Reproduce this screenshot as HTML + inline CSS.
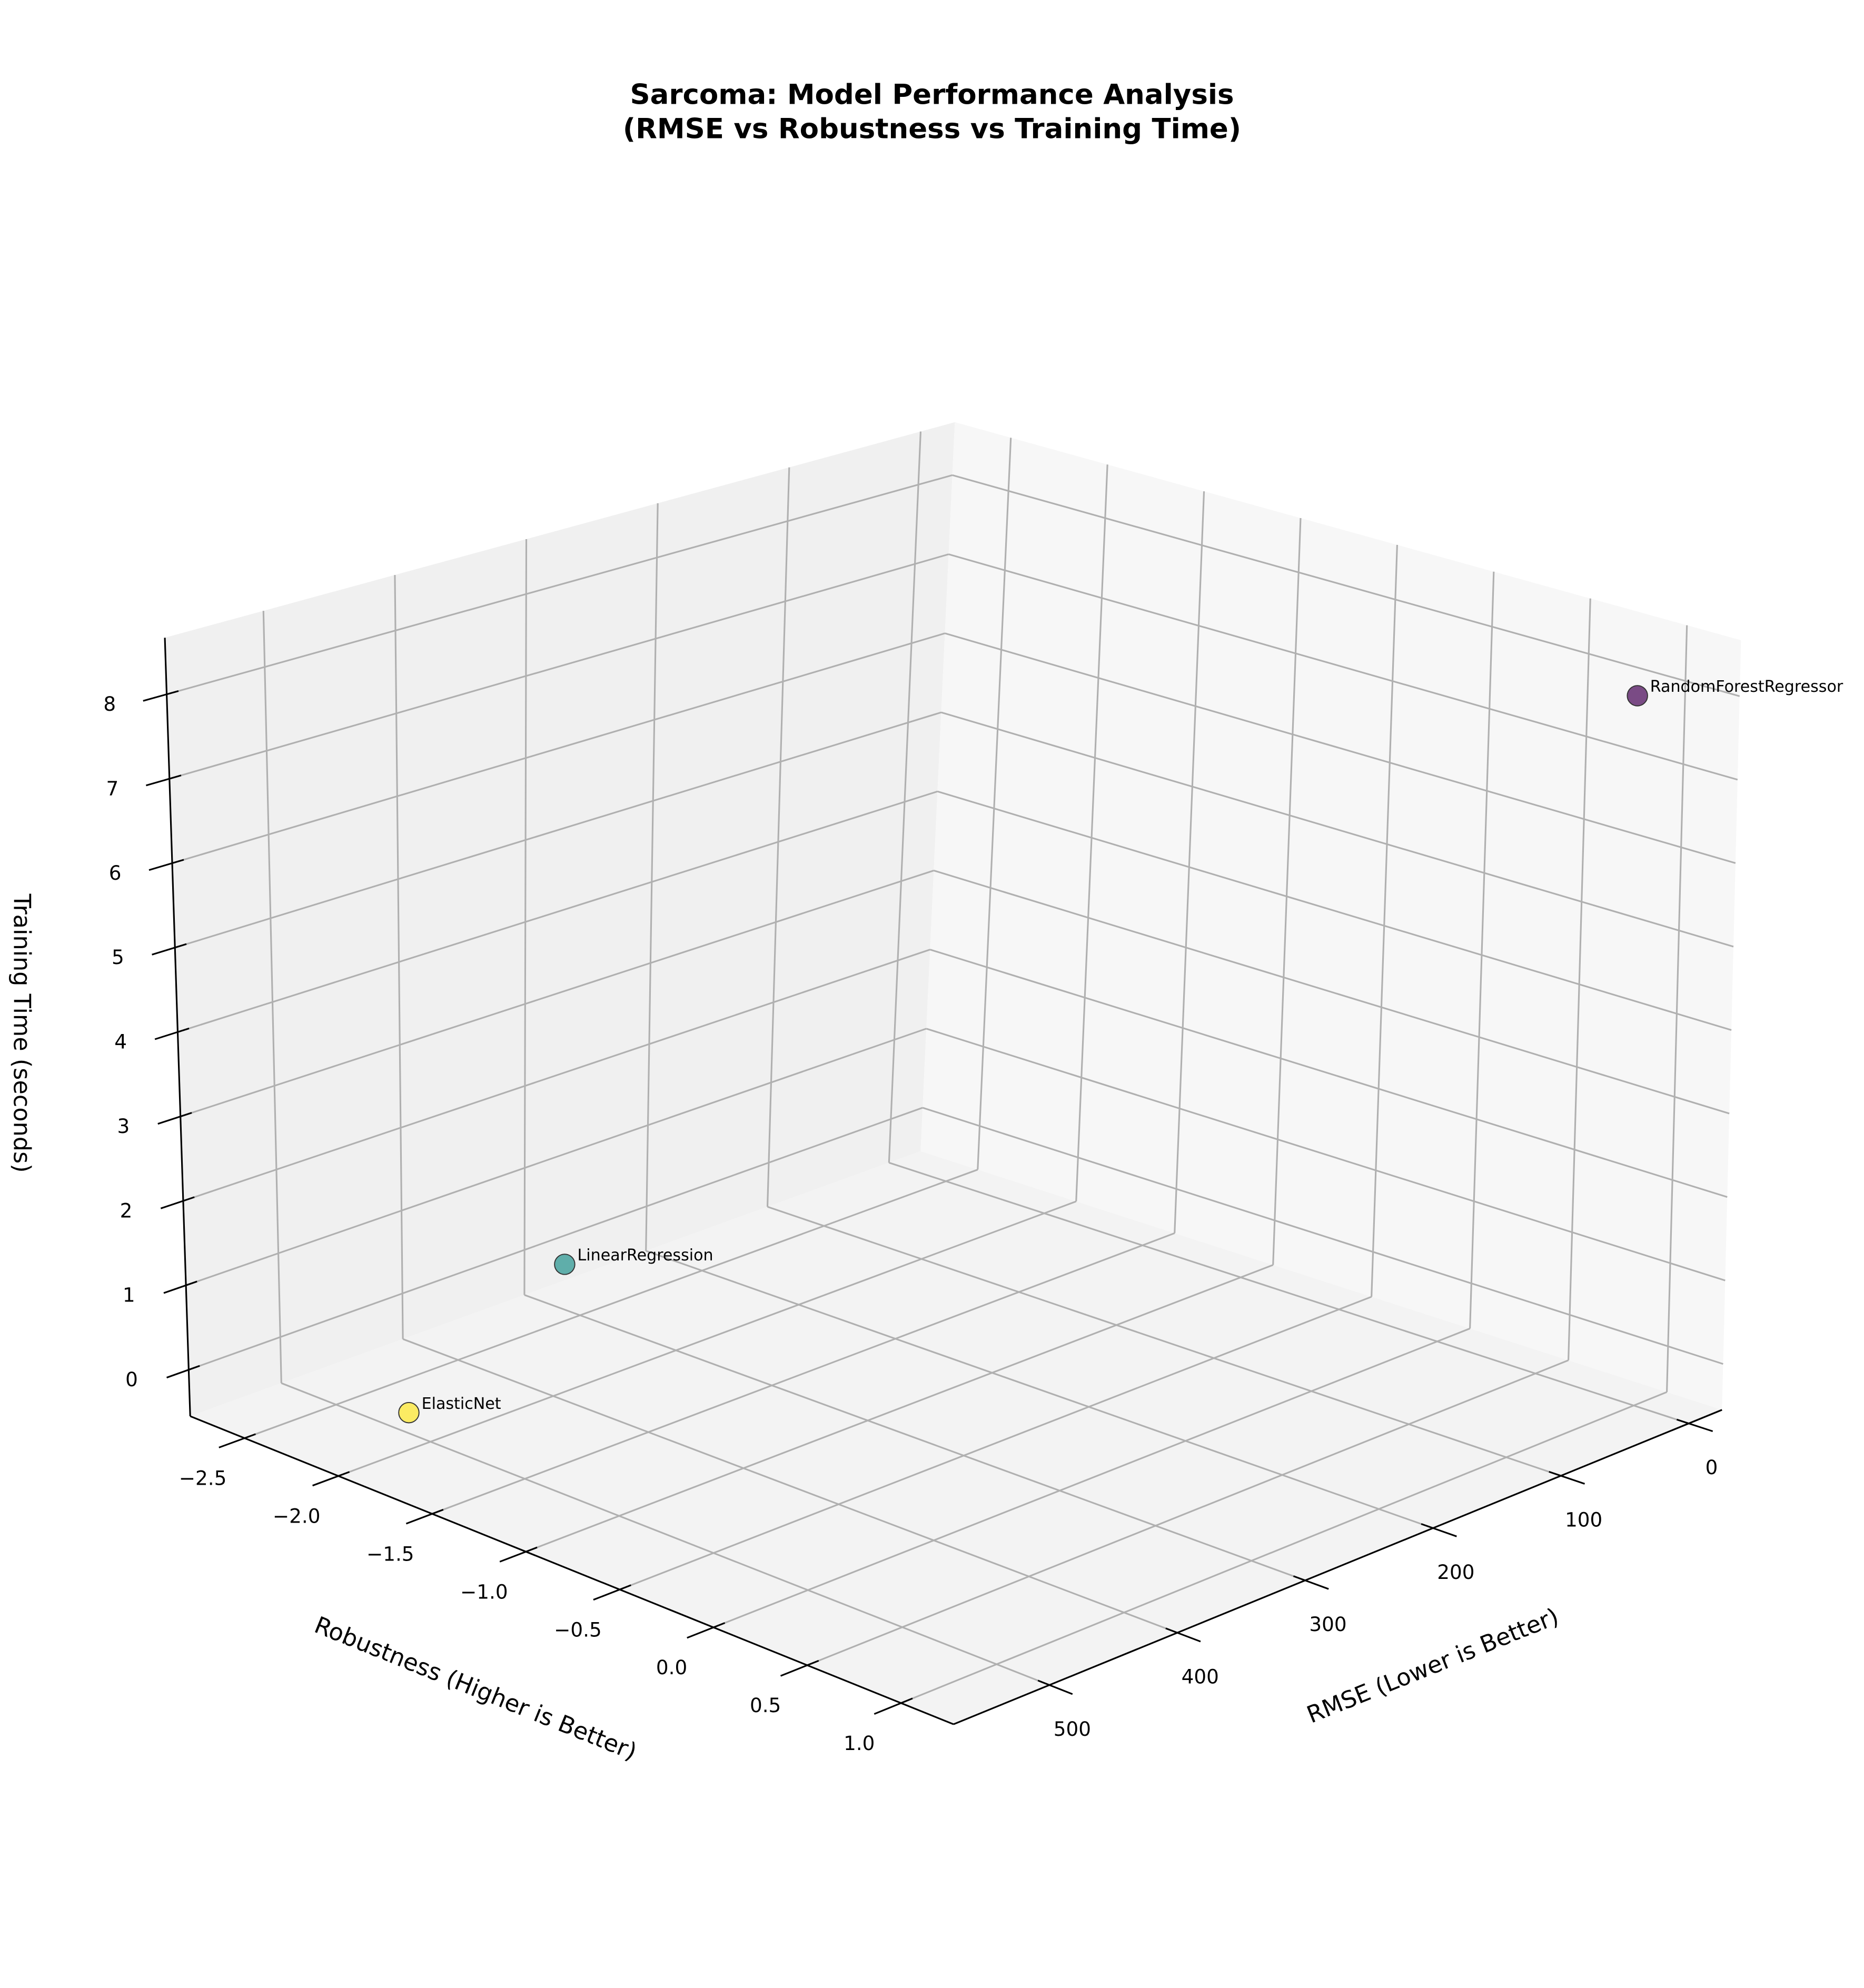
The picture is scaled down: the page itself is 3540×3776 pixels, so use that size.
<!DOCTYPE html>
<html><head><meta charset="utf-8"><style>
html,body{margin:0;padding:0;background:#fff;}
svg{display:block;font-family:"DejaVu Sans","Liberation Sans",sans-serif;}
</style></head><body>
<svg id="chart" width="3540" height="3776" viewBox="0 0 1470 1568" xmlns="http://www.w3.org/2000/svg">
<rect width="1470" height="1568" fill="#fff"/>
<text x="735" y="82" text-anchor="middle" font-size="22" font-weight="bold">Sarcoma: Model Performance Analysis</text>
<text x="735" y="109" text-anchor="middle" font-size="22" font-weight="bold">(RMSE vs Robustness vs Training Time)</text>
<g id="plot"></g>
</svg>
<script>
const models = ["RandomForestRegressor", "LinearRegression", "ElasticNet"];
const rmseValues = [18, 393, 532];
const robustnessValues = [1.05, -1.98, -1.9];
const timeValues = [8.08, 1.0, 0.05];
const colors = ["#440154", "#21918c", "#fde725"];
const rmseTicks = [0, 100, 200, 300, 400, 500];
const robTicks = [-2.5, -2.0, -1.5, -1.0, -0.5, 0.0, 0.5, 1.0];
const timeTicks = [0, 1, 2, 3, 4, 5, 6, 7, 8];

const XR = [-26, 575], YR = [-2.79, 1.28], ZR = [-0.55, 8.67];
const C = {
 "000":[726,908],"100":[150,1117],"010":[1358,1112],"110":[752,1360],
 "001":[753,333],"101":[130,503],"011":[1373,505],"111":[748,705]
};
function tri(u,v,w){
  let x=0,y=0;
  for(const a of [0,1])for(const b of [0,1])for(const c of [0,1]){
    const wt=(a?u:1-u)*(b?v:1-v)*(c?w:1-w);
    const p=C[""+a+b+c]; x+=wt*p[0]; y+=wt*p[1];
  }
  return [x,y];
}
const U=x=>(x-XR[0])/(XR[1]-XR[0]);
const V=y=>(y-YR[0])/(YR[1]-YR[0]);
const W=z=>(z-ZR[0])/(ZR[1]-ZR[0]);
const NS="http://www.w3.org/2000/svg";
const g=document.getElementById("plot");
function el(tag,attrs,parent){const e=document.createElementNS(NS,tag);for(const k in attrs)e.setAttribute(k,attrs[k]);(parent||g).appendChild(e);return e;}
function poly(pts,fill,name){
  const e=el("polygon",{points:pts.map(p=>p.join(",")).join(" "),fill:fill});
  
  
}
function line(a,b,stroke,sw,name){
  const e=el("line",{x1:a[0],y1:a[1],x2:b[0],y2:b[1],stroke:stroke,"stroke-width":sw});
  
  
}
function text(x,y,s,size,anchor,name,transform){
  const e=el("text",{x:x,y:y,"font-size":size,"text-anchor":anchor||"middle"});
  if(transform)e.setAttribute("transform",transform);
  e.textContent=s;
  
  
  return e;
}
poly([tri(0,0,0),tri(1,0,0),tri(1,0,1),tri(0,0,1)],"#f0f0f0","pane-left");
poly([tri(0,0,0),tri(0,1,0),tri(0,1,1),tri(0,0,1)],"#f7f7f7","pane-right");
poly([tri(0,0,0),tri(1,0,0),tri(1,1,0),tri(0,1,0)],"#f3f3f3","pane-floor");
const GC="#b0b0b0";
rmseTicks.forEach(t=>{const u=U(t);
  line(tri(u,0,0),tri(u,1,0),GC,1.3,"grid-rmse-floor");
  line(tri(u,0,0),tri(u,0,1),GC,1.3,"grid-rmse-wall");
});
robTicks.forEach(t=>{const v=V(t);
  line(tri(0,v,0),tri(1,v,0),GC,1.3,"grid-robustness-floor");
  line(tri(0,v,0),tri(0,v,1),GC,1.3,"grid-robustness-wall");
});
timeTicks.forEach(t=>{const w=W(t);
  line(tri(0,0,w),tri(1,0,w),GC,1.3,"grid-time-left");
  line(tri(0,0,w),tri(0,1,w),GC,1.3,"grid-time-right");
});
line(tri(1,0,0),tri(1,1,0),"#000",1.3,"robustness-axis-line");
line(tri(1,1,0),tri(0,1,0),"#000",1.3,"rmse-axis-line");
line(tri(1,0,0),tri(1,0,1),"#000",1.3,"time-axis-line");
robTicks.forEach(t=>{const v=V(t);const a=tri(0.985,v,0),b=tri(1.035,v,0);
  line(a,b,"#000",1.3,"robustness-tick");
  const p=tri(1,v,0);
  text(p[0]-33,p[1]+37,t.toFixed(1).replace("-","\u2212"),15.5,"middle","robustness-tick-label");
});
rmseTicks.forEach(t=>{const u=U(t);const a=tri(u,0.985,0),b=tri(u,1.03,0);
  line(a,b,"#000",1.3,"rmse-tick");
  const p=tri(u,1,0);
  text(p[0]+18,p[1]+40,String(t),15.5,"middle","rmse-tick-label");
});
timeTicks.forEach(t=>{const w=W(t);const a=tri(0.985,0,w),b=tri(1.03,0,w);
  line(a,b,"#000",1.3,"time-tick");
  const p=tri(1,0,w);
  text(p[0]-45,p[1]+13,String(t),15.5,"middle","time-tick-label");
});
text(375,1338,"Robustness (Higher is Better)",18.5,"middle","robustness-axis-title","rotate(22 375 1332)");
text(1130,1320,"RMSE (Lower is Better)",18.5,"middle","rmse-axis-title","rotate(-22 1130 1314)");
text(17,815,"Training Time (seconds)",18.5,"middle","time-axis-title","rotate(90 17 815)").setAttribute("dy","6");
models.forEach((m,i)=>{
  const p=tri(U(rmseValues[i]),V(robustnessValues[i]),W(timeValues[i]));
  const c=el("circle",{cx:p[0],cy:p[1],r:8,fill:colors[i],"fill-opacity":0.7,stroke:"#333","stroke-width":0.8});
  
  
  text(p[0]+10,p[1]-3,m,12.5,"start","point-label-"+m.toLowerCase());
});
</script>
</body></html>
